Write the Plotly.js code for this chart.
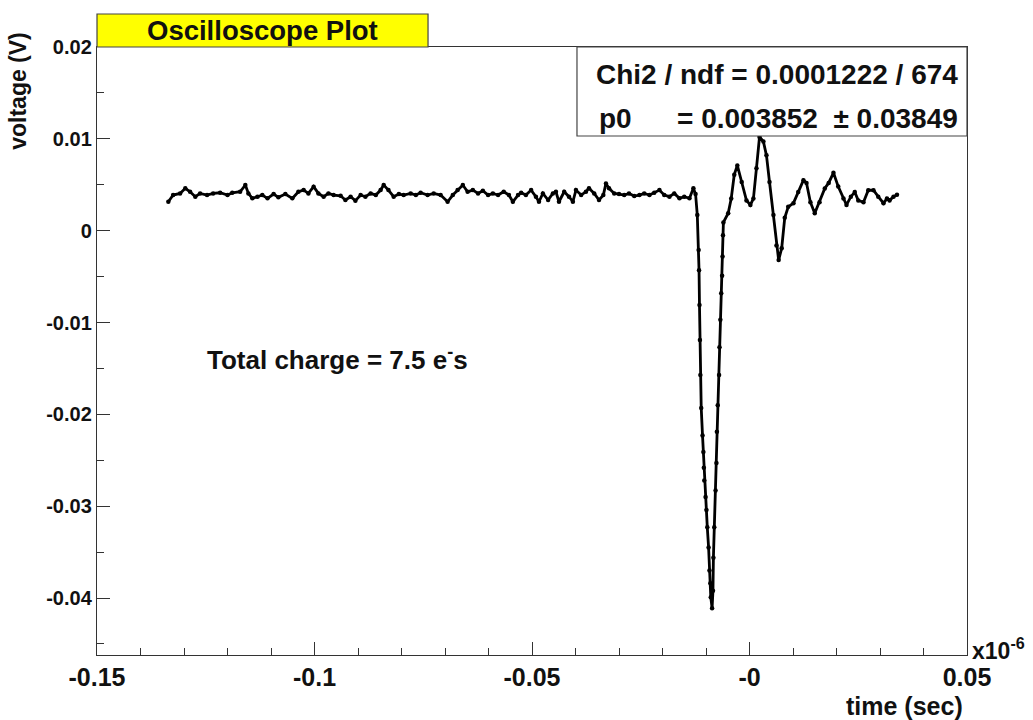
<!DOCTYPE html>
<html>
<head>
<meta charset="utf-8">
<script src="https://cdn.plot.ly/plotly-3.0.1.min.js"></script>
<style>
  html, body { margin: 0; padding: 0; background: #ffffff; }
  #chart { width: 1033px; height: 720px; }
</style>
</head>
<body>
<div id="chart"></div>
<script>
// ---- Data (time in units of 1e-6 s, voltage in V) ----
// Baseline before the pulse
const baseTime = [
  -0.1336, -0.1325, -0.1309, -0.1297, -0.1286, -0.1274, -0.1263, -0.1247, -0.1233, -0.1217,
  -0.1200, -0.1189, -0.1171, -0.1159, -0.1152, -0.1143, -0.1131, -0.1120, -0.1108, -0.1094,
  -0.1083, -0.1067, -0.1051, -0.1037, -0.1025, -0.1014, -0.1002, -0.0991, -0.0979, -0.0968,
  -0.0956, -0.0940, -0.0929, -0.0917, -0.0906, -0.0894, -0.0883, -0.0871, -0.0859, -0.0848,
  -0.0841, -0.0830, -0.0818, -0.0806, -0.0795, -0.0779, -0.0767, -0.0756, -0.0740, -0.0726,
  -0.0710, -0.0694, -0.0682, -0.0671, -0.0659, -0.0648, -0.0636, -0.0624, -0.0613, -0.0601,
  -0.0590, -0.0578, -0.0565, -0.0553, -0.0544, -0.0532, -0.0525, -0.0514, -0.0502, -0.0491,
  -0.0484, -0.0475, -0.0463, -0.0452, -0.0445, -0.0438, -0.0426, -0.0415, -0.0406, -0.0399,
  -0.0387, -0.0376, -0.0369, -0.0357, -0.0346, -0.0336, -0.0330, -0.0323, -0.0311, -0.0300,
  -0.0288, -0.0277, -0.0265, -0.0253, -0.0242, -0.0230, -0.0219, -0.0207, -0.0196, -0.0184,
  -0.0173, -0.0161, -0.0150, -0.0138, -0.0129, -0.0124
];
const baseVolt = [
  0.00315, 0.00388, 0.00406, 0.00461, 0.00424, 0.00370, 0.00406, 0.00388, 0.00406, 0.00413,
  0.00388, 0.00413, 0.00424, 0.00497, 0.00406, 0.00352, 0.00370, 0.00388, 0.00352, 0.00399,
  0.00363, 0.00399, 0.00352, 0.00424, 0.00442, 0.00406, 0.00479, 0.00406, 0.00370, 0.00406,
  0.00388, 0.00380, 0.00334, 0.00370, 0.00327, 0.00388, 0.00370, 0.00406, 0.00388, 0.00442,
  0.00497, 0.00442, 0.00370, 0.00399, 0.00388, 0.00406, 0.00388, 0.00413, 0.00388, 0.00406,
  0.00388, 0.00315, 0.00388, 0.00442, 0.00497, 0.00424, 0.00442, 0.00406, 0.00435, 0.00388,
  0.00406, 0.00388, 0.00424, 0.00388, 0.00315, 0.00388, 0.00413, 0.00388, 0.00442, 0.00370,
  0.00315, 0.00406, 0.00334, 0.00406, 0.00424, 0.00315, 0.00424, 0.00370, 0.00315, 0.00442,
  0.00388, 0.00424, 0.00461, 0.00406, 0.00334, 0.00388, 0.00515, 0.00461, 0.00406, 0.00399,
  0.00388, 0.00406, 0.00377, 0.00388, 0.00406, 0.00388, 0.00413, 0.00442, 0.00388, 0.00370,
  0.00406, 0.00352, 0.00370, 0.00352, 0.00461, 0.00400
];
// The negative pulse
const pulseTime = [
  -0.0120, -0.0117, -0.0116, -0.0115, -0.0114, -0.0113, -0.0111, -0.0108, -0.0106, -0.0105,
  -0.0104, -0.0101, -0.0099, -0.0097, -0.0094, -0.0092, -0.0090, -0.0089, -0.0086, -0.0084,
  -0.0083, -0.0081, -0.0078, -0.0076, -0.0075, -0.0073, -0.0070, -0.0069, -0.0067, -0.0065,
  -0.0063, -0.0062, -0.0061, -0.0060
];
const pulseVolt = [
  0.0017, -0.0021, -0.0043, -0.0081, -0.0119, -0.0157, -0.0193, -0.0223, -0.0241, -0.0258,
  -0.0272, -0.0290, -0.0304, -0.0323, -0.0345, -0.0370, -0.0384, -0.0399, -0.0411, -0.0392,
  -0.0356, -0.0323, -0.0283, -0.0253, -0.0219, -0.0190, -0.0157, -0.0127, -0.0097, -0.0068,
  -0.0049, -0.0028, -0.0005, 0.0009
];
// Ringing after the pulse
const ringTime = [
  -0.0049, -0.0042, -0.0035, -0.0028, -0.0018, -0.0007, 0.0002, 0.0009, 0.0016, 0.0023,
  0.0032, 0.0039, 0.0046, 0.0055, 0.0062, 0.0067, 0.0074, 0.0081, 0.0089, 0.0101,
  0.0112, 0.0124, 0.0131, 0.0140, 0.0150, 0.0161, 0.0173, 0.0182, 0.0193, 0.0204,
  0.0216, 0.0223, 0.0233, 0.0242, 0.0250, 0.0262, 0.0273, 0.0285, 0.0296, 0.0308,
  0.0316, 0.0322, 0.0331, 0.0339
];
const ringVolt = [
  0.0019, 0.0035, 0.0061, 0.0071, 0.0053, 0.0033, 0.0028, 0.0035, 0.0068, 0.0102,
  0.0097, 0.0082, 0.0053, 0.0017, -0.0016, -0.0032, -0.0019, 0.0014, 0.0026, 0.0030,
  0.0042, 0.0055, 0.0052, 0.0031, 0.0019, 0.0031, 0.0046, 0.0052, 0.0063, 0.0048,
  0.0035, 0.0028, 0.0037, 0.0042, 0.0033, 0.0031, 0.0044, 0.0044, 0.0037, 0.0030,
  0.0035, 0.0033, 0.0037, 0.0039
];

const xTickVals = [-0.15, -0.1, -0.05, 0, 0.05];
const xTickText = ["-0.15", "-0.1", "-0.05", "-0", "0.05"];
const yTickVals = [0.02, 0.01, 0, -0.01, -0.02, -0.03, -0.04];
const yTickText = ["0.02", "0.01", "0", "-0.01", "-0.02", "-0.03", "-0.04"];

const chartTitle = "Oscilloscope Plot";
const statsLine1 = "Chi2 / ndf = 0.0001222 / 674";
const statsP0Name = "p0";
const statsP0Value = "= 0.003852  \u00B1 0.03849";
const chargeText = "Total charge = 7.5 e<sup>-</sup>s";

// ---- Build ----
const timeUs = baseTime.concat(pulseTime, ringTime);
const voltage = baseVolt.concat(pulseVolt, ringVolt);

const FONT = "Liberation Sans, Arial, Helvetica, sans-serif";

const trace = {
  type: "scatter",
  mode: "lines+markers",
  x: timeUs,
  y: voltage,
  line: { color: "#000000", width: 2.8 },
  marker: { color: "#000000", size: 4.5, symbol: "circle" },
  hoverinfo: "skip",
  showlegend: false
};

const axisCommon = {
  showgrid: false,
  zeroline: false,
  showline: true,
  linecolor: "#333333",
  linewidth: 1.2,
  mirror: true,
  ticks: "inside",
  tickcolor: "#333333",
  tickwidth: 1,
  ticklen: 13,
  tickmode: "array"
};

const layout = {
  width: 1033,
  height: 720,
  margin: { l: 97, r: 66, t: 47, b: 65 },
  paper_bgcolor: "#ffffff",
  plot_bgcolor: "#ffffff",
  font: { family: FONT, color: "#111111", weight: "bold" },
  xaxis: Object.assign({}, axisCommon, {
    range: [-0.15, 0.05],
    tickvals: xTickVals,
    ticktext: xTickText,
    tickfont: { family: FONT, size: 25, color: "#111111", weight: "bold" },
    minor: { ticks: "inside", ticklen: 7, tickcolor: "#333333", dtick: 0.01, tick0: 0 }
  }),
  yaxis: Object.assign({}, axisCommon, {
    range: [-0.0462, 0.02],
    tickvals: yTickVals,
    ticktext: yTickText,
    tickfont: { family: FONT, size: 20, color: "#111111", weight: "bold" },
    minor: { ticks: "inside", ticklen: 7, tickcolor: "#333333", dtick: 0.005, tick0: 0 }
  }),
  shapes: [
    { type: "rect", xref: "paper", yref: "paper", x0: 0, x1: 0.3805, y0: 1, y1: 1.0543,
      fillcolor: "#ffff00", line: { color: "#444444", width: 1.2 }, layer: "above" },
    { type: "rect", xref: "paper", yref: "paper", x0: 0.5517, x1: 1, y0: 0.8536, y1: 1,
      fillcolor: "#ffffff", line: { color: "#444444", width: 1.2 }, layer: "above" }
  ],
  annotations: [
    { text: chartTitle, xref: "paper", yref: "paper", x: 0.19, y: 1.0275,
      xanchor: "center", yanchor: "middle", showarrow: false,
      font: { family: FONT, size: 27.5, color: "#111111", weight: "bold" } },
    { text: statsLine1, xref: "paper", yref: "paper", x: 0.9925, y: 0.954,
      xanchor: "right", yanchor: "middle", showarrow: false,
      font: { family: FONT, size: 28, color: "#111111", weight: "bold" } },
    { text: statsP0Name, xref: "paper", yref: "paper", x: 0.575, y: 0.883,
      xanchor: "left", yanchor: "middle", showarrow: false,
      font: { family: FONT, size: 28, color: "#111111", weight: "bold" } },
    { text: statsP0Value, xref: "paper", yref: "paper", x: 0.9925, y: 0.883,
      xanchor: "right", yanchor: "middle", showarrow: false,
      font: { family: FONT, size: 28, color: "#111111", weight: "bold" } },
    { text: chargeText, xref: "paper", yref: "paper", x: 0.124, y: 0.487,
      xanchor: "left", yanchor: "middle", showarrow: false,
      font: { family: FONT, size: 26, color: "#111111", weight: "bold" } },
    { text: "voltage (V)", xref: "paper", yref: "paper", x: -0.091, y: 1.028,
      xanchor: "center", yanchor: "top", textangle: -90, showarrow: false,
      font: { family: FONT, size: 23, color: "#111111", weight: "bold" } },
    { text: "time (sec)", xref: "paper", yref: "paper", x: 0.998, y: -0.084,
      xanchor: "right", yanchor: "middle", showarrow: false,
      font: { family: FONT, size: 25, color: "#111111", weight: "bold" } },
    { text: "x10<sup>-6</sup>", xref: "paper", yref: "paper", x: 1.003, y: 0.01,
      xanchor: "left", yanchor: "middle", showarrow: false,
      font: { family: FONT, size: 23, color: "#111111", weight: "bold" } }
  ]
};

Plotly.newPlot("chart", [trace], layout, { staticPlot: true, displayModeBar: false });
</script>
</body>
</html>
